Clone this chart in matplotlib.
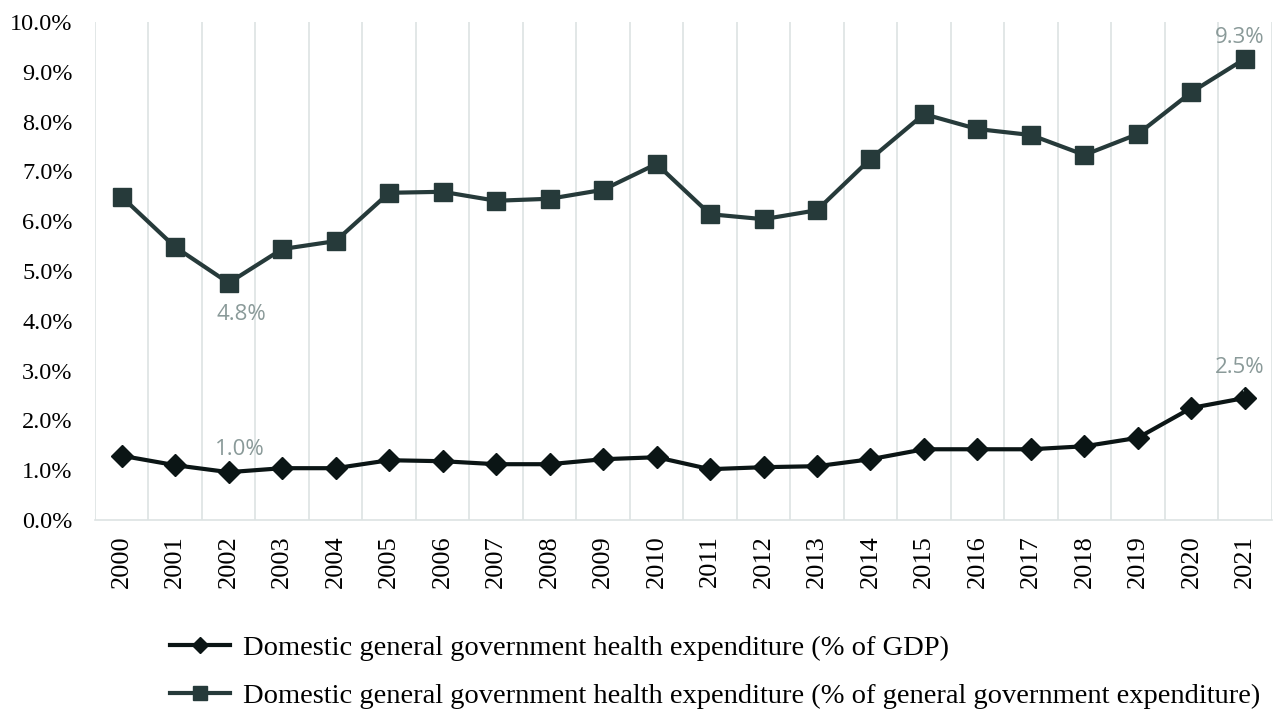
import numpy as np
import matplotlib.pyplot as plt

years = [str(y) for y in range(2000, 2022)]
pct_gdp = [1.29, 1.10, 0.96, 1.04, 1.04, 1.20, 1.18, 1.12, 1.12, 1.22, 1.26,
           1.02, 1.06, 1.08, 1.22, 1.42, 1.42, 1.42, 1.48, 1.65, 2.25, 2.45]
pct_gov = [6.49, 5.48, 4.76, 5.44, 5.60, 6.57, 6.59, 6.41, 6.45, 6.63, 7.15,
           6.14, 6.04, 6.22, 7.25, 8.15, 7.85, 7.73, 7.33, 7.75, 8.59, 9.26]
lbl_gdp = "Domestic general government health expenditure (% of GDP)"
lbl_gov = "Domestic general government health expenditure (% of general government expenditure)"

serif = ['Liberation Serif', 'DejaVu Serif']
c_gdp = '#0b1515'
c_gov = '#263a3a'
c_lab = '#8a9a99'

fig = plt.figure(figsize=(12.78, 7.09), dpi=100)
ax = fig.add_axes([0.0743, 0.2666, 0.9207, 0.7024])
x = np.arange(len(years))

ax.plot(x, pct_gdp, color=c_gdp, lw=3, marker='D', ms=11, label=lbl_gdp, zorder=3)
ax.plot(x, pct_gov, color=c_gov, lw=3, marker='s', ms=12.5, label=lbl_gov, zorder=3)

ax.set_xlim(-0.5, len(years) - 0.5)
ax.set_ylim(0, 10)
ax.set_yticks(np.arange(0, 10.01, 1))
ax.set_yticklabels([f"{v:.1f}%" for v in np.arange(0, 10.01, 1)], family=serif, fontsize=17.5)
ax.set_xticks(x)
ax.set_xticklabels(years, rotation=90, family=serif, fontsize=19)
ax.set_xticks(np.arange(-0.5, len(years)), minor=True)
ax.grid(True, which='minor', axis='x', color='#dde3e3', lw=1.2)
ax.tick_params(which='both', length=0)
ax.tick_params(axis='x', pad=11)
ax.tick_params(axis='y', pad=16)
for s in ['left', 'right', 'top']:
    ax.spines[s].set_visible(False)
ax.spines['bottom'].set_color('#dde3e3')
ax.spines['bottom'].set_linewidth(1.2)

lab_kw = dict(color=c_lab, fontsize=16, family=['Open Sans', 'DejaVu Sans'],
              ha='center', va='center')
i_min = int(np.argmin(pct_gov))
ax.annotate(f"{pct_gov[i_min]:.1f}%", (x[i_min], pct_gov[i_min]),
            xytext=(9.5, -23), textcoords='offset points', **lab_kw)
ax.annotate(f"{pct_gov[-1]:.1f}%", (x[-1], pct_gov[-1]),
            xytext=(-4, 15), textcoords='offset points', **lab_kw)
i_lo = int(np.argmin(pct_gdp))
ax.annotate(f"{pct_gdp[i_lo]:.1f}%", (x[i_lo], pct_gdp[i_lo]),
            xytext=(8, 16), textcoords='offset points', **lab_kw)
ax.annotate(f"{pct_gdp[-1]:.1f}%", (x[-1], pct_gdp[-1]),
            xytext=(-4, 22), textcoords='offset points',
            arrowprops=dict(arrowstyle='-', color=c_lab, lw=0.8, shrinkA=7, shrinkB=5),
            **lab_kw)

fig.legend(loc='upper left', bbox_to_anchor=(0.1245, 0.121), frameon=False,
           prop={'family': serif, 'size': 20.5}, handlelength=2.1,
           labelspacing=0.8, borderaxespad=0, handletextpad=0.45,
           markerscale=0.75)

fig.savefig('out.png', dpi=100)
